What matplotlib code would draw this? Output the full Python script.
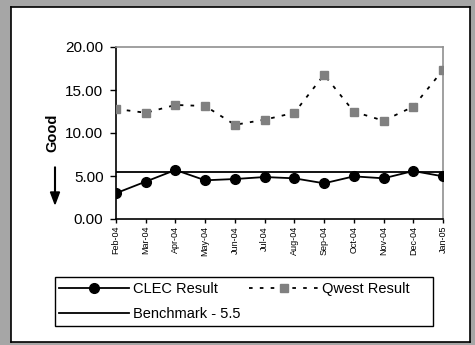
import matplotlib.pyplot as plt
from matplotlib.patches import FancyArrow, Rectangle

months = ["Feb-04", "Mar-04", "Apr-04", "May-04", "Jun-04", "Jul-04",
          "Aug-04", "Sep-04", "Oct-04", "Nov-04", "Dec-04", "Jan-05"]
clec = [3.0, 4.35, 5.7, 4.5, 4.65, 4.88, 4.73, 4.15, 4.96, 4.73, 5.58, 4.96]
qwest = [12.8, 12.35, 13.26, 13.14, 10.95, 11.55, 12.35, 16.78, 12.48, 11.43, 13.06, 17.33]
benchmark = 5.5

W, H = 475, 345
fig = plt.figure(figsize=(4.75, 3.45), dpi=100)
fig.patch.set_facecolor("#a6a6a6")

# white panel with black border
bg = fig.add_axes([11 / W, 3 / H, 459 / W, 335 / H])
bg.set_xticks([])
bg.set_yticks([])
bg.set_facecolor("white")
for s in bg.spines.values():
    s.set_linewidth(1.2)
bg.set_zorder(-1)

ax = fig.add_axes([116 / W, 1 - 219 / H, 327 / W, 172 / H])
x = list(range(len(months)))
l1, = ax.plot(x, clec, color="black", linewidth=1.3, marker="o", markersize=7,
              label="CLEC Result", zorder=3)
l2, = ax.plot(x, qwest, color="black", linewidth=1.3, linestyle=(0, (2, 4)), marker="s",
              markersize=5.5, markerfacecolor="#808080", markeredgecolor="#808080",
              label="Qwest Result", zorder=3)
l3, = ax.plot([x[0], x[-1]], [benchmark, benchmark], color="black", linewidth=1.3,
              label="Benchmark - 5.5", zorder=2)

ax.set_xlim(0, len(months) - 1)
ax.set_ylim(0, 20)
ax.set_yticks([0, 5, 10, 15, 20])
ax.set_yticklabels([f"{v:.2f}" for v in [0, 5, 10, 15, 20]], fontsize=11, family="Liberation Sans")
ax.set_xticks(x)
ax.set_xticklabels(months, rotation=90, fontsize=6.5, family="Liberation Sans")
ax.tick_params(axis="y", direction="out", length=4, width=1, pad=5)
ax.tick_params(axis="x", direction="out", length=3, width=1, pad=2)
ax.spines["left"].set_linewidth(1.2)
ax.spines["bottom"].set_linewidth(1.2)
for side in ["top", "right"]:
    ax.spines[side].set_color("#909090")
    ax.spines[side].set_linewidth(1.2)
ax.set_facecolor("white")

fig.text(52 / W, 1 - 133 / H, "Good", rotation=90, ha="center", va="center",
         fontsize=10.5, fontweight="bold", family="Liberation Sans")
fig.patches.append(FancyArrow(55 / W, 1 - 167 / H, 0, -37 / H, width=0.0015,
                              head_width=9 / W, head_length=12 / H,
                              length_includes_head=True, color="black",
                              transform=fig.transFigure))

# legend frame drawn separately so it can span the reference width
fig.patches.append(Rectangle((55 / W, 1 - 326 / H), 378 / W, 49 / H, transform=fig.transFigure,
                             facecolor="white", edgecolor="black", linewidth=1, zorder=1))
leg = fig.legend([l1, l3, l2], ["CLEC Result", "Benchmark - 5.5", "Qwest Result"],
                 loc="center left", bbox_to_anchor=(55 / W, 1 - 301.5 / H), ncol=2,
                 frameon=False, handlelength=4.8, handletextpad=0.25, columnspacing=0.55,
                 borderaxespad=0, labelspacing=0.8, borderpad=0.3,
                 prop={"family": "Liberation Sans", "size": 10.5})
leg.set_zorder(2)

fig.savefig("out.png", dpi=100, facecolor=fig.get_facecolor())
